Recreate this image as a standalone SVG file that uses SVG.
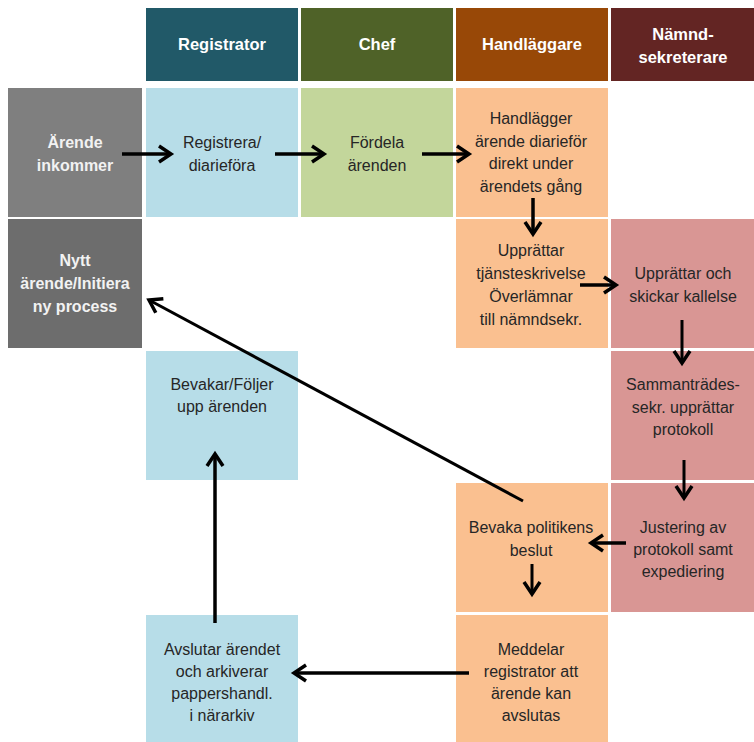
<svg xmlns="http://www.w3.org/2000/svg" width="754" height="742" viewBox="0 0 754 742">
<defs>
<style>
.hd{font-family:"Liberation Sans",Arial,sans-serif;font-size:16.5px;font-weight:bold;fill:#ffffff;text-anchor:middle}
.gt{font-family:"Liberation Sans",Arial,sans-serif;font-size:16px;font-weight:bold;fill:#f2f2f2;text-anchor:middle}
.t{font-family:"Liberation Sans",Arial,sans-serif;font-size:16px;fill:#262626;text-anchor:middle}
.blue{fill:#b7dde8}.green{fill:#c3d69b}.orange{fill:#fac090}.pink{fill:#d99694}
.c{stroke:#000;stroke-width:3.5;fill:none}
.c2{stroke:#000;stroke-width:3;fill:none}
</style>
<marker id="ah" viewBox="-16 -12 20 24" refX="0" refY="0" markerWidth="20" markerHeight="24" markerUnits="userSpaceOnUse" orient="auto" overflow="visible">
<path d="M-12,-8 L0,0 L-12,8" fill="none" stroke="#000" stroke-width="3.5" stroke-linejoin="miter"/>
</marker>
</defs>
<rect width="754" height="742" fill="#ffffff"/>

<g id="hdr-registrator"><rect x="146" y="8" width="152" height="73" fill="#215968"/><text class="hd" x="222" y="50">Registrator</text></g>
<g id="hdr-chef"><rect x="301" y="8" width="152" height="73" fill="#4f6228"/><text class="hd" x="377" y="50">Chef</text></g>
<g id="hdr-handlaggare"><rect x="456" y="8" width="152" height="73" fill="#984807"/><text class="hd" x="532" y="50">Handläggare</text></g>
<g id="hdr-namndsekreterare"><rect x="611" y="8" width="143" height="73" fill="#632523"/><text class="hd" x="683" y="40">Nämnd-</text><text class="hd" x="683" y="63">sekreterare</text></g>

<g id="arende-inkommer"><rect x="8" y="88" width="134" height="129" fill="#7f7f7f"/><text class="gt" x="75" y="148">Ärende</text><text class="gt" x="75" y="171">inkommer</text></g>
<g id="registrera"><rect class="blue" x="146" y="88" width="152" height="129"/><text class="t" x="222" y="148">Registrera/</text><text class="t" x="222" y="171">diarieföra</text></g>
<g id="fordela"><rect class="green" x="301" y="88" width="152" height="129"/><text class="t" x="377" y="148">Fördela</text><text class="t" x="377" y="171">ärenden</text></g>
<g id="handlagger"><rect class="orange" x="456" y="88" width="152" height="129"/><text class="t" x="531" y="124">Handlägger</text><text class="t" x="531" y="146.5">ärende diarieför</text><text class="t" x="531" y="169">direkt under</text><text class="t" x="531" y="191.5">ärendets gång</text></g>

<g id="nytt-arende"><rect x="8" y="219" width="134" height="129" fill="#6d6d6d"/><text class="gt" x="75" y="266">Nytt</text><text class="gt" x="75" y="289">ärende/Initiera</text><text class="gt" x="75" y="312">ny process</text></g>
<g id="upprattar-tjansteskrivelse"><rect class="orange" x="456" y="219" width="152" height="129"/><text class="t" x="531" y="256">Upprättar</text><text class="t" x="531" y="279">tjänsteskrivelse</text><text class="t" x="531" y="302">Överlämnar</text><text class="t" x="531" y="325">till nämndsekr.</text></g>
<g id="upprattar-kallelse"><rect class="pink" x="611" y="219" width="143" height="129"/><text class="t" x="683" y="279">Upprättar och</text><text class="t" x="683" y="302">skickar kallelse</text></g>

<g id="bevakar"><rect class="blue" x="146" y="351" width="152" height="129"/><text class="t" x="222" y="390">Bevakar/Följer</text><text class="t" x="222" y="412">upp ärenden</text></g>
<g id="sammantrades"><rect class="pink" x="611" y="351" width="143" height="129"/><text class="t" x="683" y="390">Sammanträdes-</text><text class="t" x="683" y="412.5">sekr. upprättar</text><text class="t" x="683" y="435">protokoll</text></g>

<g id="bevaka-beslut"><rect class="orange" x="456" y="483" width="152" height="129"/><text class="t" x="531" y="533">Bevaka politikens</text><text class="t" x="531" y="555.5">beslut</text></g>
<g id="justering"><rect class="pink" x="611" y="483" width="143" height="129"/><text class="t" x="683" y="533">Justering av</text><text class="t" x="683" y="555">protokoll samt</text><text class="t" x="683" y="577">expediering</text></g>

<g id="avslutar"><rect class="blue" x="146" y="615" width="152" height="127"/><text class="t" x="222" y="655">Avslutar ärendet</text><text class="t" x="222" y="677">och arkiverar</text><text class="t" x="222" y="699">pappershandl.</text><text class="t" x="222" y="721">i närarkiv</text></g>
<g id="meddelar"><rect class="orange" x="456" y="615" width="152" height="127"/><text class="t" x="531" y="655">Meddelar</text><text class="t" x="531" y="677">registrator att</text><text class="t" x="531" y="699">ärende kan</text><text class="t" x="531" y="721">avslutas</text></g>

<g id="connectors">
<line class="c" x1="122" y1="154" x2="171" y2="154" marker-end="url(#ah)"/>
<line class="c" x1="275" y1="154" x2="324" y2="154" marker-end="url(#ah)"/>
<line class="c" x1="422" y1="154" x2="469" y2="154" marker-end="url(#ah)"/>
<line class="c" x1="533" y1="198" x2="533" y2="234" marker-end="url(#ah)"/>
<line class="c" x1="580" y1="285" x2="616" y2="285" marker-end="url(#ah)"/>
<line class="c2" x1="682" y1="320" x2="682" y2="363" marker-end="url(#ah)"/>
<line class="c2" x1="684" y1="460" x2="684" y2="498" marker-end="url(#ah)"/>
<line class="c" x1="626" y1="543" x2="591" y2="543" marker-end="url(#ah)"/>
<line class="c2" x1="532" y1="564" x2="532" y2="594" marker-end="url(#ah)"/>
<line class="c" x1="469" y1="673" x2="294" y2="673" marker-end="url(#ah)"/>
<line class="c" x1="215" y1="623" x2="215" y2="454" marker-end="url(#ah)"/>
<line class="c2" x1="523" y1="501" x2="149" y2="300" marker-end="url(#ah)"/>
</g>
</svg>
